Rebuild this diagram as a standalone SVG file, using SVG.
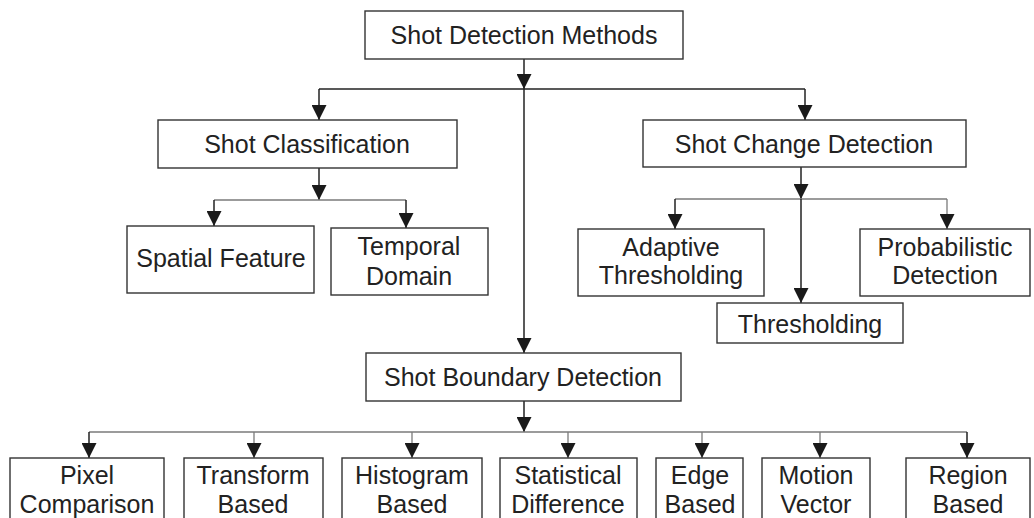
<svg xmlns="http://www.w3.org/2000/svg" width="1034" height="518" viewBox="0 0 1034 518">
<style>
.box{fill:#fff;stroke:#333;stroke-width:1.4}
.t{font-family:"Liberation Sans",Arial,sans-serif;font-size:25px;fill:#222;text-anchor:middle}
.c{fill:none;stroke:#222;stroke-width:1.5}
.g{fill:none;stroke:#7a7a7a;stroke-width:1.3}
</style>
<defs>
<marker id="ah" markerUnits="userSpaceOnUse" markerWidth="15" markerHeight="15" refX="15" refY="7.5" orient="auto" viewBox="0 0 15 15">
<path d="M0,0 L15,7.5 L0,15 z" fill="#1a1a1a"/>
</marker>
</defs>
<rect width="1034" height="518" fill="#fff"/>
<g id="connectors">
<line class="c" x1="524" y1="59" x2="524" y2="89" marker-end="url(#ah)"/>
<line class="c" x1="319" y1="89" x2="805" y2="89"/>
<line class="c" x1="319" y1="89" x2="319" y2="120" marker-end="url(#ah)"/>
<line class="c" x1="805" y1="89" x2="805" y2="120" marker-end="url(#ah)"/>
<line class="c" x1="524" y1="89" x2="524" y2="353" marker-end="url(#ah)"/>
<line class="c" x1="319" y1="168" x2="319" y2="200" marker-end="url(#ah)"/>
<line class="g" x1="214" y1="200" x2="406" y2="200"/>
<line class="c" x1="214" y1="200" x2="214" y2="226" marker-end="url(#ah)"/>
<line class="c" x1="406" y1="200" x2="406" y2="228" marker-end="url(#ah)"/>
<line class="c" x1="801" y1="167" x2="801" y2="199" marker-end="url(#ah)"/>
<line class="g" x1="675" y1="199" x2="947" y2="199"/>
<line class="c" x1="675" y1="199" x2="675" y2="229" marker-end="url(#ah)"/>
<line class="g" x1="947" y1="199" x2="947" y2="229" marker-end="url(#ah)"/>
<line class="c" x1="801" y1="199" x2="801" y2="303" marker-end="url(#ah)"/>
<line class="c" x1="524" y1="401" x2="524" y2="432" marker-end="url(#ah)"/>
<line class="g" x1="89" y1="432" x2="967" y2="432"/>
<line class="c" x1="89" y1="432" x2="89" y2="458" marker-end="url(#ah)"/>
<line class="g" x1="254" y1="432" x2="254" y2="458" marker-end="url(#ah)"/>
<line class="g" x1="412" y1="432" x2="412" y2="458" marker-end="url(#ah)"/>
<line class="g" x1="568" y1="432" x2="568" y2="458" marker-end="url(#ah)"/>
<line class="g" x1="702" y1="432" x2="702" y2="458" marker-end="url(#ah)"/>
<line class="g" x1="820" y1="432" x2="820" y2="458" marker-end="url(#ah)"/>
<line class="c" x1="967" y1="432" x2="967" y2="458" stroke-width="2.5" marker-end="url(#ah)"/>
</g>
<g id="shot-detection-methods"><rect class="box" x="365" y="11" width="318" height="48"/><text class="t" x="524" y="44">Shot Detection Methods</text></g>
<g id="shot-classification"><rect class="box" x="158" y="120" width="299" height="48"/><text class="t" x="307" y="153">Shot Classification</text></g>
<g id="shot-change-detection"><rect class="box" x="643" y="120" width="323" height="47"/><text class="t" x="804" y="153">Shot Change Detection</text></g>
<g id="spatial-feature"><rect class="box" x="127" y="226" width="187" height="67"/><text class="t" x="221" y="267">Spatial Feature</text></g>
<g id="temporal-domain"><rect class="box" x="331" y="228" width="157" height="67"/><text class="t" x="409" y="255">Temporal</text><text class="t" x="409" y="285">Domain</text></g>
<g id="adaptive-thresholding"><rect class="box" x="578" y="229" width="186" height="67"/><text class="t" x="671" y="256">Adaptive</text><text class="t" x="671" y="284">Thresholding</text></g>
<g id="probabilistic-detection"><rect class="box" x="860" y="229" width="170" height="67"/><text class="t" x="945" y="256">Probabilistic</text><text class="t" x="945" y="284">Detection</text></g>
<g id="thresholding"><rect class="box" x="717" y="303" width="186" height="40"/><text class="t" x="810" y="333">Thresholding</text></g>
<g id="shot-boundary-detection"><rect class="box" x="366" y="353" width="315" height="48"/><text class="t" x="523" y="386">Shot Boundary Detection</text></g>
<g id="pixel-comparison"><rect class="box" x="10" y="458" width="154" height="70"/><text class="t" x="87" y="484">Pixel</text><text class="t" x="87" y="513">Comparison</text></g>
<g id="transform-based"><rect class="box" x="184" y="458" width="139" height="70"/><text class="t" x="253" y="484">Transform</text><text class="t" x="253" y="513">Based</text></g>
<g id="histogram-based"><rect class="box" x="342" y="458" width="140" height="70"/><text class="t" x="412" y="484">Histogram</text><text class="t" x="412" y="513">Based</text></g>
<g id="statistical-difference"><rect class="box" x="500" y="458" width="137" height="70"/><text class="t" x="568" y="484">Statistical</text><text class="t" x="568" y="513">Difference</text></g>
<g id="edge-based"><rect class="box" x="656" y="458" width="87" height="70"/><text class="t" x="700" y="484">Edge</text><text class="t" x="700" y="513">Based</text></g>
<g id="motion-vector"><rect class="box" x="762" y="458" width="108" height="70"/><text class="t" x="816" y="484">Motion</text><text class="t" x="816" y="513">Vector</text></g>
<g id="region-based"><rect class="box" x="906" y="458" width="124" height="70"/><text class="t" x="968" y="484">Region</text><text class="t" x="968" y="513">Based</text></g>
</svg>
